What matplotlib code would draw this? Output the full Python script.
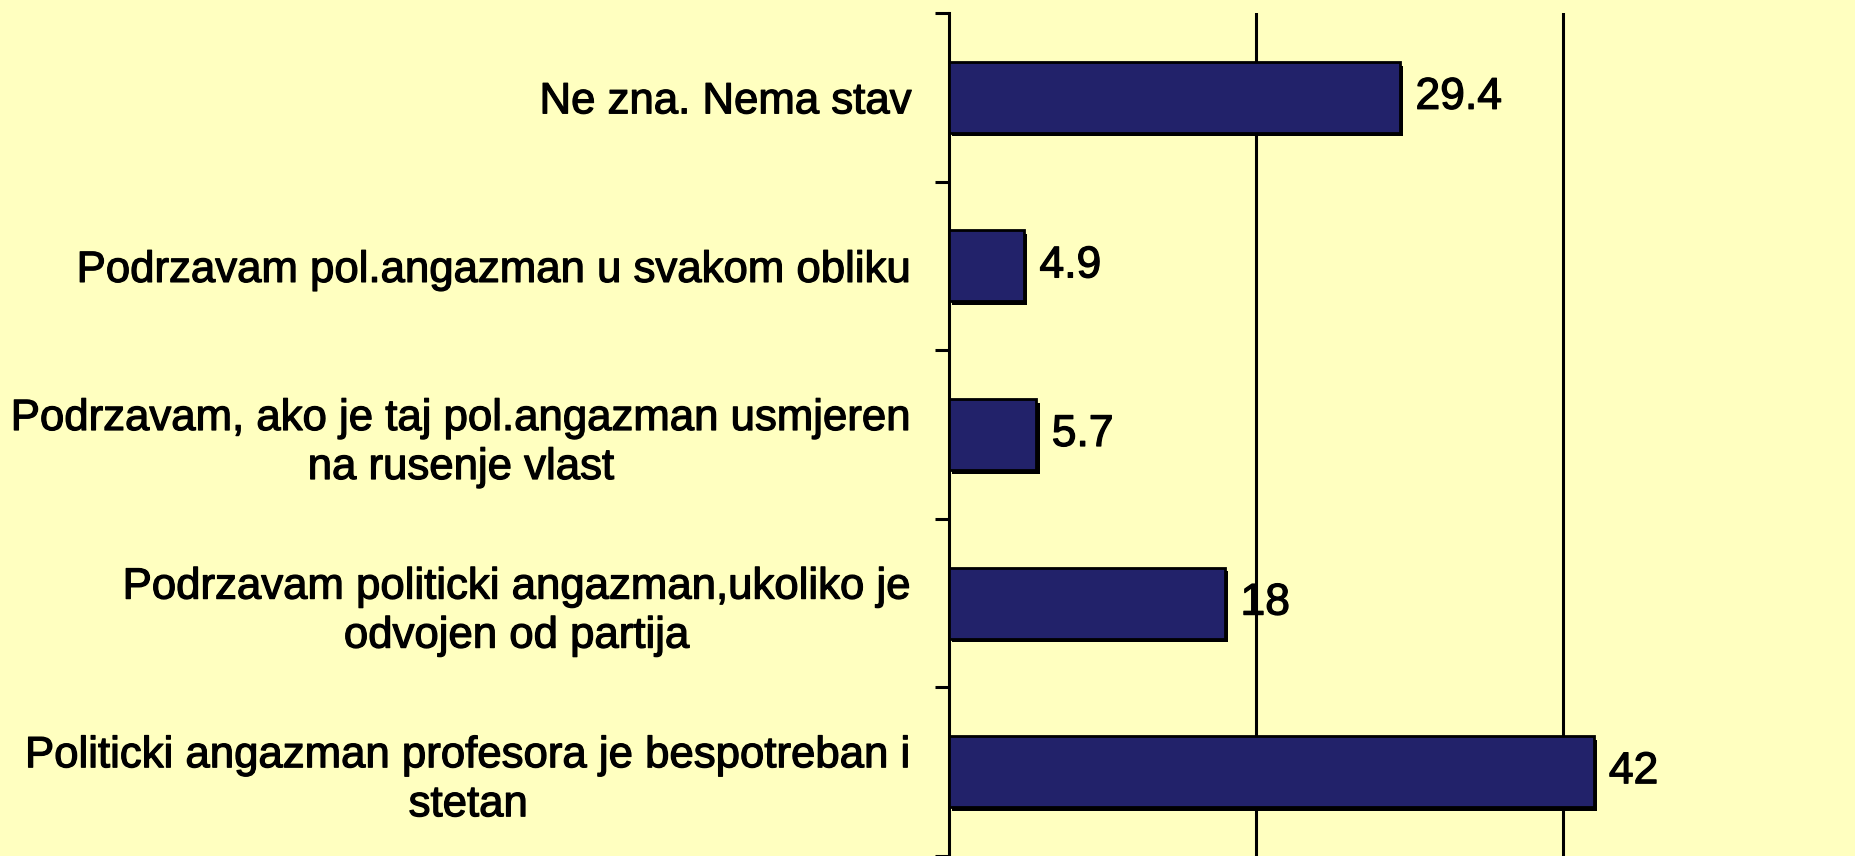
import matplotlib
matplotlib.use("Agg")
import matplotlib.pyplot as plt
import matplotlib.patheffects as pe
import numpy as np

categories = [
    "Ne zna. Nema stav",
    "Podrzavam pol.angazman u svakom obliku",
    "Podrzavam, ako je taj pol.angazman usmjeren\nna rusenje vlast",
    "Podrzavam politicki angazman,ukoliko je\nodvojen od partija",
    "Politicki angazman profesora je bespotreban i\nstetan",
]
values = [29.4, 4.9, 5.7, 18, 42]
value_labels = ["29.4", "4.9", "5.7", "18", "42"]
grid_values = [20, 40]

BG = "#FFFFC0"
BAR = "#22226A"
FONT = ["Liberation Sans", "DejaVu Sans"]
FS = 31.5
text_fx = [pe.withStroke(linewidth=0.9, foreground="black")]

fig = plt.figure(figsize=(18.56, 8.56), dpi=100, facecolor=BG)
ax = fig.add_axes([949 / 1856, 0.0, 1 - 949 / 1856, 1 - 13 / 856])
ax.set_facecolor(BG)

y = np.arange(len(categories))
bars = ax.barh(y, values, height=0.42, color=BAR, edgecolor="black",
               linewidth=2, zorder=3)
for b in bars:
    b.set_path_effects([pe.withSimplePatchShadow(offset=(2.2, -2.6),
                                                 shadow_rgbFace="black",
                                                 alpha=1.0)])

for gv in grid_values:
    ax.axvline(gv, color="black", linewidth=2.2, zorder=1)

ax.set_xlim(0, 59.1)
ax.set_ylim(len(categories) - 0.5, -0.5)

for yi, v, lab in zip(y, values, value_labels):
    ax.annotate(lab, xy=(v, yi), xytext=(11, 0), textcoords="offset points",
                ha="left", va="center", fontsize=FS + 0.5, family=FONT,
                color="black", zorder=4, path_effects=text_fx)

for s in ["top", "right", "bottom"]:
    ax.spines[s].set_visible(False)
ax.spines["left"].set_linewidth(2.2)
ax.spines["left"].set_color("black")

ax.set_xticks([])
ax.set_yticks(y)
ax.set_yticklabels(categories, family=FONT, fontsize=FS,
                   multialignment="center", linespacing=1.25)
for t in ax.get_yticklabels():
    t.set_path_effects(text_fx)
ax.tick_params(axis="y", which="major", length=0, pad=27)
ax.set_yticks(np.arange(-0.5, len(categories) + 0.5, 1), minor=True)
ax.tick_params(axis="y", which="minor", length=10, width=2.2, color="black")

fig.savefig("out.png", dpi=100, facecolor=BG)
